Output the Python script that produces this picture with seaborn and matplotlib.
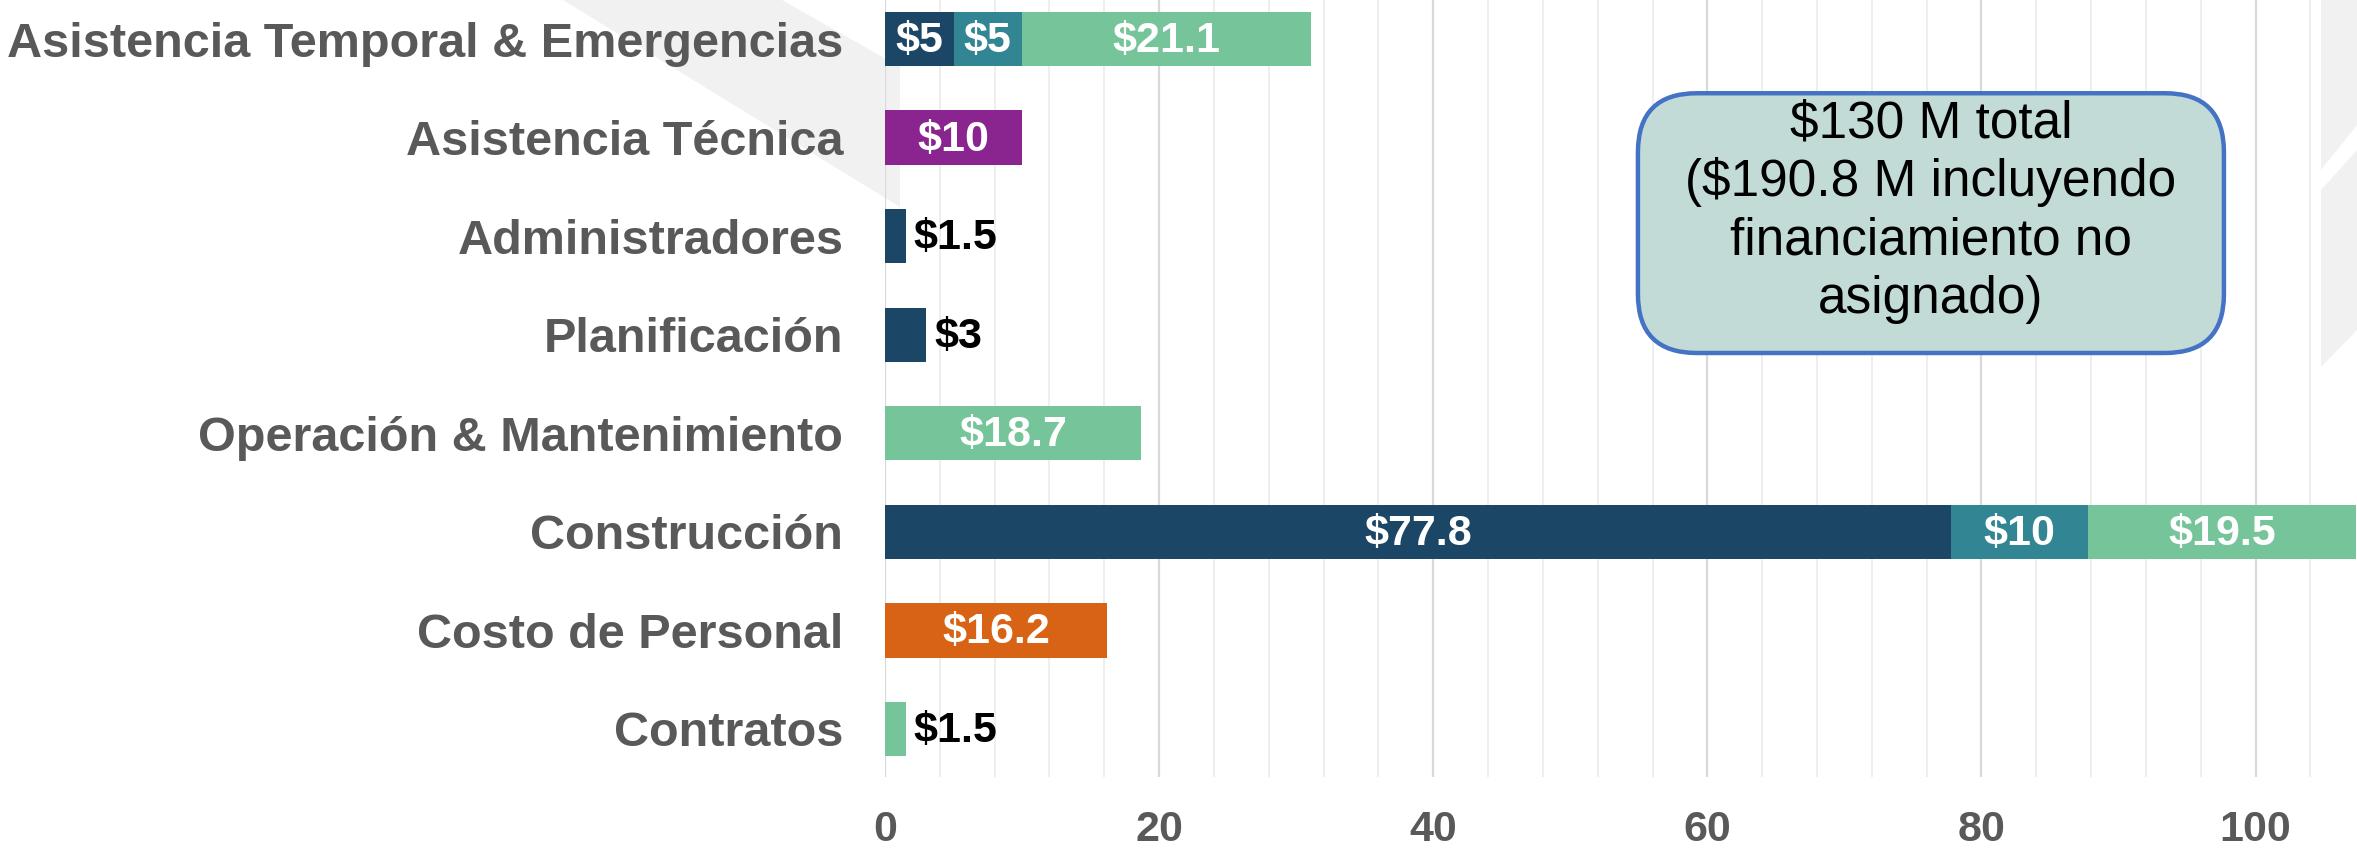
import numpy as np
import pandas as pd
import matplotlib
matplotlib.use("Agg")
import matplotlib.pyplot as plt
from matplotlib.patches import FancyBboxPatch, Polygon
import seaborn as sns

# data
categories = ["Asistencia Temporal & Emergencias", "Asistencia Técnica", "Administradores",
              "Planificación", "Operación & Mantenimiento", "Construcción",
              "Costo de Personal", "Contratos"]
navy = [5, 0, 1.5, 3, 0, 77.8, 0, 0]
teal = [5, 0, 0, 0, 0, 10, 0, 0]
green = [21.1, 0, 0, 0, 18.7, 19.5, 0, 1.5]
purple = [0, 10, 0, 0, 0, 0, 0, 0]
orange = [0, 0, 0, 0, 0, 0, 16.2, 0]
note = "$130 M total\n($190.8 M incluyendo\nfinanciamiento no\nasignado)"

series = [("navy", navy, "#1B4665"), ("teal", teal, "#328593"), ("green", green, "#76C59A"),
          ("purple", purple, "#8A2590"), ("orange", orange, "#D86315")]

sns.set_theme(style="white")
plt.rcParams["font.family"] = ["Liberation Sans", "DejaVu Sans"]

df = pd.DataFrame({name: vals for name, vals, _ in series}, index=categories)
cum = df.cumsum(axis=1)

fig = plt.figure(figsize=(23.57, 8.49), dpi=100)
ax = fig.add_axes([885/2357, 72/849, 1472/2357, 777/849])
ax.set_facecolor("none")

# decorative background shapes
W, H = 2357, 849
def figpoly(pts):
    return Polygon([(x / W, 1 - y / H) for x, y in pts], closed=True,
                   transform=fig.transFigure, facecolor="#F1F1F2", edgecolor="none", zorder=-1)
fig.patches.append(figpoly([(563, 0), (782, 0), (900, 67), (900, 207)]))
fig.patches.append(figpoly([(2321, 0), (2357, 0), (2357, 125), (2321, 170)]))
fig.patches.append(figpoly([(2321, 190), (2357, 150), (2357, 330), (2321, 367)]))

# stacked bars: draw from the last series down so earlier ones sit on top
for name, vals, col in reversed(series):
    sub = pd.DataFrame({"cat": categories, "end": cum[name].values, "v": vals})
    sub = sub[sub["v"] > 0]
    sns.barplot(data=sub, x="end", y="cat", order=categories, orient="h",
                color=col, width=0.55, linewidth=0, saturation=1, ax=ax, zorder=3)

# value labels
for i, cat in enumerate(categories):
    start = 0
    for name, vals, col in series:
        v = vals[i]
        if v <= 0:
            continue
        lab = "${:g}".format(v)
        if v < 4:
            ax.text(start + v + 0.6, i + 0.02, lab, ha="left", va="center", fontsize=31,
                    fontweight="bold", color="black", zorder=5)
        else:
            ax.text(start + v / 2, i + 0.02, lab, ha="center", va="center", fontsize=31,
                    fontweight="bold", color="white", zorder=5)
        start += v

ax.set_xlim(0, 107.4)
ax.set_ylim(7.487, -0.396)
ax.set_xticks(np.arange(0, 101, 20))
ax.set_xticks(np.arange(0, 108, 4), minor=True)
ax.grid(axis="x", which="major", color="#D9D9D9", linewidth=1.6, zorder=0)
ax.grid(axis="x", which="minor", color="#EDEDED", linewidth=1.3, zorder=0)
ax.set_axisbelow(True)
ax.set_xlabel("")
ax.set_ylabel("")
for s in ax.spines.values():
    s.set_visible(False)
ax.tick_params(axis="x", which="both", length=0, pad=24, labelsize=31, labelcolor="#595959")
ax.tick_params(axis="y", length=0, pad=30, labelsize=35, labelcolor="#595959")
for t in ax.get_xticklabels() + ax.get_yticklabels():
    t.set_fontweight("bold")

# note box
x0, x1, y0, y1 = 0.5115, 0.9096, 0.5457, 0.880
box = FancyBboxPatch((x0, y0), x1 - x0, y1 - y0, boxstyle="round,pad=0,rounding_size=0.04",
                     mutation_aspect=1472/777, transform=ax.transAxes,
                     facecolor="#C2DBD7", edgecolor="#4472C4", linewidth=3.2, zorder=6)
ax.add_patch(box)
ax.text((x0 + x1) / 2, 0.728, note, transform=ax.transAxes, ha="center",
        va="center", fontsize=37, color="black", linespacing=1.24, zorder=7)

fig.savefig("out.png", dpi=100)
